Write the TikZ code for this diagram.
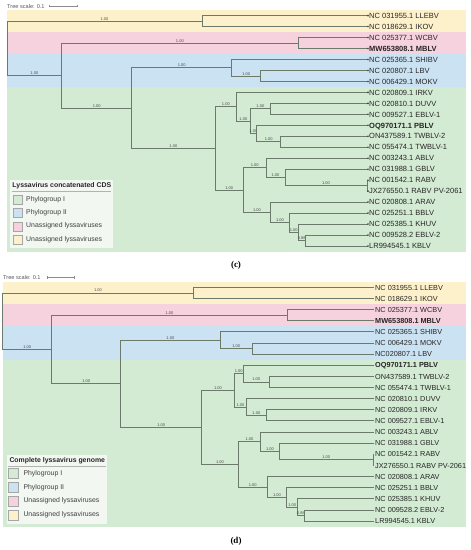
\documentclass[tikz,border=0pt]{standalone}
\usepackage{fontspec}
\setmainfont{Liberation Sans}
\newfontfamily\capfont{Liberation Serif}
\usetikzlibrary{arrows.meta,positioning}

\definecolor{grpI}{RGB}{211,234,211}
\definecolor{grpII}{RGB}{203,226,243}
\definecolor{unasPink}{RGB}{246,210,222}
\definecolor{unasYellow}{RGB}{253,241,204}
\definecolor{branch}{RGB}{108,122,108}
\definecolor{legbg}{RGB}{242,247,242}

\begin{document}
\begin{tikzpicture}[x=1pt,y=-1pt,
  br/.style={draw=branch,line width=0.75pt},
  support/.style={pos=.75,above,inner sep=0.5pt,font=\fontsize{4}{4}\selectfont,text=black!70},
  leaf/.style={anchor=west,inner sep=1pt,text height=5.4pt,text depth=0pt,font=\fontsize{7.5}{8}\selectfont,text=black!85},
  tipdot/.style={fill=black!75},
  legtitle/.style={anchor=west,inner sep=0pt,font=\bfseries\fontsize{6.9}{7}\selectfont,text=black!85},
  legtext/.style={anchor=west,inner sep=0pt,font=\fontsize{6.9}{7}\selectfont,text=black!75},
  swatch/.style={draw=black!35,line width=0.4pt},
  scaletxt/.style={anchor=west,inner sep=0pt,font=\fontsize{5.6}{6}\selectfont,text=black!65},
  scalebar/.style={draw=black!45,line width=0.5pt,{Bar[width=2.5pt]}-{Bar[width=2.5pt]}},
  panel/.style={font=\capfont\bfseries\fontsize{9}{10}\selectfont}]
\useasboundingbox (0,0) rectangle (471,550);

% ---------- (c) concatenated CDS ----------
\fill[unasYellow] (7,10) rectangle (466,32);
\fill[unasPink] (7,32) rectangle (466,54);
\fill[grpII] (7,54) rectangle (466,87);
\fill[grpI] (7,87) rectangle (466,251.5);

\node[scaletxt] (cScale) at (7,6) {Tree scale: 0.1};
\coordinate (cSL) at (49.3,6);
\coordinate (cSR) at (77.7,6);
\draw[scalebar] (cSL) -- (cSR);

\foreach \i/\name in {0/NC 031955.1 LLEBV, 1/NC 018629.1 IKOV, 2/NC 025377.1 WCBV,
    3/{\bfseries MW653808.1 MBLV}, 4/NC 025365.1 SHIBV, 5/NC 020807.1 LBV,
    6/NC 006429.1 MOKV, 7/NC 020809.1 IRKV, 8/NC 020810.1 DUVV, 9/NC 009527.1 EBLV-1,
    10/{\bfseries OQ970171.1 PBLV}, 11/ON437589.1 TWBLV-2, 12/NC 055474.1 TWBLV-1,
    13/NC 003243.1 ABLV, 14/NC 031988.1 GBLV, 15/NC 001542.1 RABV,
    16/JX276550.1 RABV PV-2061, 17/NC 020808.1 ARAV, 18/NC 025251.1 BBLV,
    19/NC 025385.1 KHUV, 20/NC 009528.2 EBLV-2, 21/LR994545.1 KBLV}
  \node[leaf] (c\i) at (368,{15.6+10.97*\i}) {\name};

\coordinate (cR) at (7,48.32);
\coordinate (cY) at (202,21.09);
\coordinate (cA) at (61.7,75.56);
\coordinate (cP) at (298,43.03);
\coordinate (cB) at (131.7,108.08);
\coordinate (cBl) at (231.7,67.71);
\coordinate (cLM) at (260.7,75.94);
\coordinate (cC) at (215,148.45);
\coordinate (cD) at (236.7,106.79);
\coordinate (cE) at (250,121.19);
\coordinate (cF) at (270.7,108.85);
\coordinate (cG) at (256.7,133.53);
\coordinate (cH) at (280.7,141.76);
\coordinate (cI) at (243.3,190.1);
\coordinate (cJ) at (266,167.81);
\coordinate (cL) at (285,177.41);
\coordinate (cM) at (367,185.64);
\coordinate (cK) at (270.7,212.38);
\coordinate (cN) at (289.3,222.66);
\coordinate (cO) at (298.3,232.26);
\coordinate (cQ) at (305,240.49);

\foreach \p/\q/\s in {cR/cY/1.00, cR/cA/1.00, cA/cP/1.00, cA/cB/1.00, cB/cBl/1.00,
    cB/cC/1.00, cBl/cLM/1.00, cC/cD/1.00, cC/cI/1.00, cD/cE/1.00, cE/cF/1.00,
    cE/cG/1.00, cG/cH/1.00, cI/cJ/1.00, cJ/cL/1.00, cL/cM/1.00, cI/cK/1.00,
    cK/cN/1.00, cN/cO/1.00, cO/cQ/0.88}
  \draw[br] (\p) |- node[support] {\s} (\q);
\foreach \p/\i in {cY/0, cY/1, cP/2, cP/3, cBl/4, cLM/5, cLM/6, cD/7, cF/8, cF/9,
    cG/10, cH/11, cH/12, cJ/13, cL/14, cM/15, cM/16, cK/17, cN/18, cO/19, cQ/20, cQ/21}
  \draw[br] (\p) |- (c\i.west);
\foreach \i in {0,...,21}
  \fill[tipdot] (c\i.west) circle (0.9pt);

% legend
\fill[legbg] (10,180) rectangle (112.7,248.3);
\node[legtitle] (cLegT) at (12.3,185.5) {Lyssavirus concatenated CDS};
\coordinate (cRuleL) at (11.5,191);
\coordinate (cRuleR) at (111,191);
\draw[black!30,line width=0.6pt] (cRuleL) -- (cRuleR);
\foreach \y/\col/\txt [count=\k] in {199.3/grpI/Phylogroup I, 212.6/grpII/Phylogroup II,
    226.2/unasPink/Unassigned lyssaviruses, 239.6/unasYellow/Unassigned lyssaviruses} {
  \draw[swatch,fill=\col] (12.7,{\y-4.5}) rectangle ++(9,9);
  \node[legtext] (cLeg\k) at (26,\y) {\txt};
}
\node[panel] (cPanel) at (236,265) {(c)};

% ---------- (d) complete genome ----------
\fill[unasYellow] (2.7,281.7) rectangle (466,304);
\fill[unasPink] (2.7,304) rectangle (466,326.2);
\fill[grpII] (2.7,326.2) rectangle (466,359.6);
\fill[grpI] (2.7,359.6) rectangle (466,526.6);

\node[scaletxt] (dScale) at (3,277.3) {Tree scale: 0.1};
\coordinate (dSL) at (46.7,277.3);
\coordinate (dSR) at (74,277.3);
\draw[scalebar] (dSL) -- (dSR);

\foreach \i/\name in {0/NC 031955.1 LLEBV, 1/NC 018629.1 IKOV, 2/NC 025377.1 WCBV,
    3/{\bfseries MW653808.1 MBLV}, 4/NC 025365.1 SHIBV, 5/NC 006429.1 MOKV,
    6/NC020807.1 LBV, 7/{\bfseries OQ970171.1 PBLV}, 8/ON437589.1 TWBLV-2,
    9/NC 055474.1 TWBLV-1, 10/NC 020810.1 DUVV, 11/NC 020809.1 IRKV,
    12/NC 009527.1 EBLV-1, 13/NC 003243.1 ABLV, 14/NC 031988.1 GBLV,
    15/NC 001542.1 RABV, 16/JX276550.1 RABV PV-2061, 17/NC 020808.1 ARAV,
    18/NC 025251.1 BBLV, 19/NC 025385.1 KHUV, 20/NC 009528.2 EBLV-2, 21/LR994545.1 KBLV}
  \node[leaf,font=\fontsize{7.3}{8}\selectfont] (d\i) at (374,{287.3+11.13*\i}) {\name};

\coordinate (dR) at (2.7,321.15);
\coordinate (dY) at (193.3,292.87);
\coordinate (dA) at (51.7,349.44);
\coordinate (dP) at (287.3,315.13);
\coordinate (dB) at (120.7,383.74);
\coordinate (dBl) at (220,340.17);
\coordinate (dLM) at (252.3,348.52);
\coordinate (dC) at (201.7,427.3);
\coordinate (dD) at (234.3,390.26);
\coordinate (dE) at (243.3,373.56);
\coordinate (dH) at (269.3,381.9);
\coordinate (dF) at (246.7,406.95);
\coordinate (dG) at (266,415.3);
\coordinate (dI) at (238.3,464.34);
\coordinate (dJ) at (260.7,441.73);
\coordinate (dL) at (279.3,451.46);
\coordinate (dM) at (373.3,459.8);
\coordinate (dK) at (267.3,486.95);
\coordinate (dN) at (286.7,497.38);
\coordinate (dO) at (297.7,507.12);
\coordinate (dQ) at (304,515.47);

\foreach \p/\q/\s in {dR/dY/1.00, dR/dA/1.00, dA/dP/1.00, dA/dB/1.00, dB/dBl/1.00,
    dB/dC/1.00, dBl/dLM/1.00, dC/dD/1.00, dC/dI/1.00, dD/dE/1.00, dD/dF/1.00,
    dE/dH/1.00, dF/dG/1.00, dI/dJ/1.00, dJ/dL/1.00, dL/dM/1.00, dI/dK/1.00,
    dK/dN/1.00, dN/dO/1.00, dO/dQ/0.88}
  \draw[br] (\p) |- node[support] {\s} (\q);
\foreach \p/\i in {dY/0, dY/1, dP/2, dP/3, dBl/4, dLM/5, dLM/6, dE/7, dH/8, dH/9,
    dF/10, dG/11, dG/12, dJ/13, dL/14, dM/15, dM/16, dK/17, dN/18, dO/19, dQ/20, dQ/21}
  \draw[br] (\p) |- (d\i.west);

% legend
\fill[legbg] (6.7,455) rectangle (107.3,524);
\node[legtitle] (dLegT) at (9.3,460.5) {Complete lyssavirus genome};
\coordinate (dRuleL) at (8,466);
\coordinate (dRuleR) at (106,466);
\draw[black!30,line width=0.6pt] (dRuleL) -- (dRuleR);
\foreach \y/\col/\txt [count=\k] in {473.3/grpI/Phylogroup I, 487.3/grpII/Phylogroup II,
    501/unasPink/Unassigned lyssaviruses, 515/unasYellow/Unassigned lyssaviruses} {
  \draw[swatch,fill=\col] (8,{\y-5}) rectangle ++(10.5,10);
  \node[legtext] (dLeg\k) at (23.3,\y) {\txt};
}
\node[panel] (dPanel) at (236,541.7) {(d)};
\end{tikzpicture}
\end{document}
